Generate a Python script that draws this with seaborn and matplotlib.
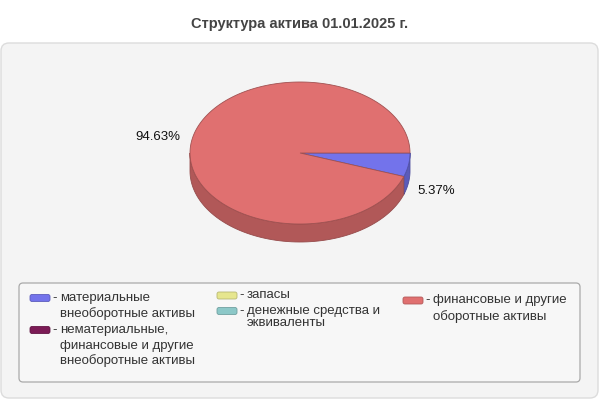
import numpy as np
import matplotlib.pyplot as plt
import matplotlib.colors as mcolors
import seaborn as sns
from matplotlib.patches import Polygon, FancyBboxPatch

# DADOS
titulo = "Структура актива 01.01.2025 г."
categorias = [
    "материальные\nвнеоборотные активы",
    "нематериальные,\nфинансовые и другие\nвнеоборотные активы",
    "запасы",
    "денежные средства и\nэквиваленты",
    "финансовые и другие\nоборотные активы",
]
valores = [5.37, 0.0, 0.0, 0.0, 94.63]
cores = ["#7373EB", "#7B1A55", "#E6E68E", "#8CC8C8", "#E07070"]

sns.set_style("white")
plt.rcParams["font.family"] = ["Liberation Sans", "DejaVu Sans"]

fig = plt.figure(figsize=(6, 4), dpi=100)
ax = fig.add_axes([0, 0, 1, 1])
ax.set_xlim(0, 600)
ax.set_ylim(400, 0)
ax.axis("off")

# painel de fundo e titulo
ax.add_patch(FancyBboxPatch((1, 43), 597, 355, boxstyle="round,pad=0,rounding_size=8",
                            facecolor="#F4F4F4", edgecolor="#DCDCDC", lw=1, zorder=0))
ax.text(300, 24, titulo, ha="center", va="center", fontsize=10.5,
        fontweight="bold", color="#444444")

# pizza 3D (elipse + parede lateral)
cx, cy, rx, ry, prof = 300, 153, 110, 71, 18


def ponto(t):
    r = np.radians(t)
    return cx + rx * np.cos(r), cy + ry * np.sin(r)


total = sum(valores)
inicio = 0.0
fatias = []
for v, c in zip(valores, cores):
    if v == 0:
        continue
    fim = inicio + 360 * v / total
    fatias.append((inicio, fim, v, c))
    inicio = fim

for a0, a1, v, c in fatias:
    escuro = tuple(np.array(mcolors.to_rgb(c)) * 0.79)
    lo, hi = max(a0, 0), min(a1, 180)
    if hi > lo:
        t = np.linspace(lo, hi, 80)
        xs, ys = ponto(t)
        pts = np.column_stack([np.r_[xs, xs[::-1]], np.r_[ys, ys[::-1] + prof]])
        ax.add_patch(Polygon(pts, closed=True, facecolor=escuro,
                             edgecolor=tuple(np.array(escuro) * 0.85), lw=0.6, zorder=2))

for a0, a1, v, c in fatias:
    t = np.linspace(a0, a1, 200)
    xs, ys = ponto(t)
    pts = np.column_stack([np.r_[cx, xs], np.r_[cy, ys]])
    borda = tuple(np.array(mcolors.to_rgb(c)) * 0.72)
    ax.add_patch(Polygon(pts, closed=True, facecolor=c, edgecolor=borda,
                         lw=0.6, zorder=3))

    meio = (a0 + a1) / 2
    ex, ey = ponto(meio)
    cosm, sinm = np.cos(np.radians(meio)), np.sin(np.radians(meio))
    lx = ex + (9 if cosm >= 0 else -11)
    if sinm < 0:
        ax.text(lx, ey - 1, f"{v:.2f}%", ha="left" if cosm >= 0 else "right",
                va="baseline", fontsize=9.5, color="#111111", zorder=4)
    else:
        ax.text(lx, ey + prof + 11, f"{v:.2f}%", ha="left" if cosm >= 0 else "right",
                va="baseline", fontsize=9.5, color="#111111", zorder=4)

# legenda
ax.add_patch(FancyBboxPatch((19, 283), 561, 99, boxstyle="round,pad=0,rounding_size=4",
                            facecolor="#F7F7F7", edgecolor="#AAAAAA", lw=0.9, zorder=1))

# (x amostra, y centro, espaçamento entre linhas)
pos_legenda = [(30, 298, 15.5), (30, 330, 15.5), (217, 295.5, 12.5),
               (217, 311, 12.5), (403, 300.5, 16)]
for (sx, sy, esp), nome, c in zip(pos_legenda, categorias, cores):
    borda = tuple(np.array(mcolors.to_rgb(c)) * 0.8)
    ax.add_patch(FancyBboxPatch((sx, sy - 3.5), 20, 7, boxstyle="round,pad=0,rounding_size=2",
                                facecolor=c, edgecolor=borda, lw=0.6, zorder=2))
    ax.text(sx + 22, sy, "-", ha="left", va="center", fontsize=9.5, color="#333333")
    for k, linha in enumerate(nome.split("\n")):
        ax.text(sx + 30, sy + k * esp, linha, ha="left", va="center",
                fontsize=9.5, color="#333333")

fig.savefig("out.png", dpi=100)
